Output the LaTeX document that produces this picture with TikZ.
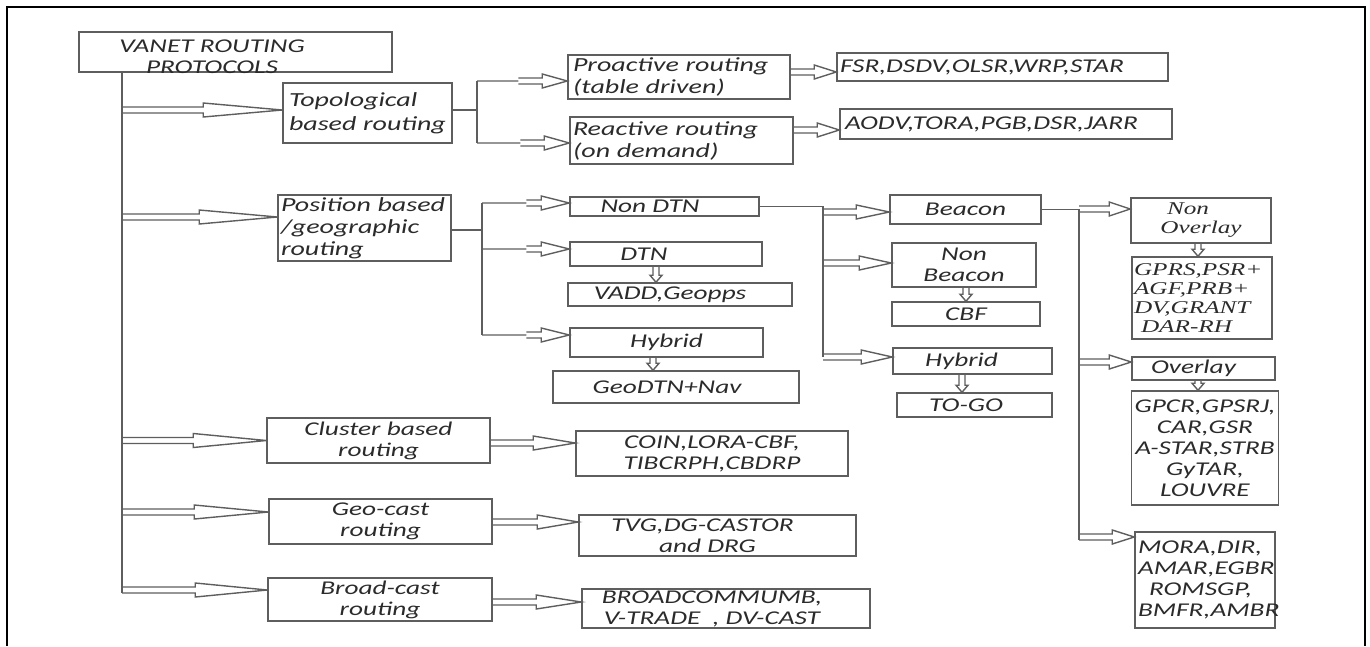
\documentclass[tikz,border=0pt]{standalone}
\usepackage{fontspec}
\setmainfont{Carlito}[FakeStretch=1.4]
\newfontfamily\timesit{Liberation Serif}[FakeStretch=1.4]
\usetikzlibrary{calc}
\definecolor{linegray}{HTML}{5E5E5E}
\definecolor{textgray}{HTML}{2B2B2B}
\tikzstyle{box}=[draw=linegray,line width=1.5pt,inner ysep=0pt,inner xsep=3pt,align=center,text=textgray,font=\itshape\fontsize{19.5}{21}\selectfont]
\tikzstyle{lbox}=[box,align=left]
\tikzstyle{bigfont}=[font=\itshape\fontsize{20}{22}\selectfont]
\tikzstyle{serifbox}=[box,font=\timesit\itshape\fontsize{18}{19}\selectfont]
\tikzstyle{plain}=[box,draw=none]
\tikzstyle{wire}=[draw=linegray,line width=1.4pt]
\newcommand{\fatarrow}[4]{%
  \draw[wire] let \p1=(#1), \p2=(#2), \n1={max(\x1,\x2-#3)} in
    (\x1,\y2) -- (\n1,\y2)
    (\n1,\y2+3pt) -- (\x2-#4,\y2+3pt) -- (\x2-#4,\y2+7pt) -- (\x2,\y2)
    -- (\x2-#4,\y2-7pt) -- (\x2-#4,\y2-3pt) -- (\n1,\y2-3pt);}
\newcommand{\droparrow}[2]{%
  \draw[wire] let \p1=(#1), \p2=(#2) in
    (\x1-3pt,\y1) -- (\x1-3pt,\y2+7pt) -- (\x1-6pt,\y2+7pt) -- (\x1,\y2)
    -- (\x1+6pt,\y2+7pt) -- (\x1+3pt,\y2+7pt) -- (\x1+3pt,\y1);}

\begin{document}
\begin{tikzpicture}[x=1pt,y=-1pt]
    \useasboundingbox (0,0) rectangle (1370,646);
    \draw[line width=2pt] (7,646) -- (7,7) -- (1365,7) -- (1365,646);

    \node[box,minimum width=313pt,minimum height=40pt] (root) at (235.5,52) {};
    \node[plain] (roottxt) at (212,57) {VANET ROUTING\\PROTOCOLS};

    \node[lbox,bigfont,text width=157pt,inner xsep=6pt,minimum height=60pt,font=\itshape\fontsize{20}{24}\selectfont] (topo) at (367.5,113) {Topological\\based routing};
    \node[lbox,bigfont,text width=167pt,minimum height=66pt] (pos) at (364.5,228) {Position based\\/geographic\\routing};
    \node[box,minimum width=223pt,minimum height=45pt] (clus) at (378.5,440.5) {Cluster based\\routing};
    \node[box,minimum width=223pt,minimum height=45pt] (geo) at (380.5,521.5) {Geo-cast\\routing};
    \node[box,minimum width=224pt,minimum height=43pt] (broad) at (380,599.5) {Broad-cast\\routing};

    \node[lbox,bigfont,text width=212pt,inner xsep=5pt,minimum height=44pt] (pro) at (679,77) {Proactive routing\\(table driven)};
    \node[lbox,bigfont,text width=217pt,minimum height=47pt] (rea) at (681.5,140.5) {Reactive routing\\(on demand)};
    \node[lbox,text width=325pt,minimum height=28pt] (fsr) at (1002.5,67) {FSR,DSDV,OLSR,WRP,STAR};
    \node[lbox,text width=322pt,inner xsep=5pt,minimum height=30pt] (aodv) at (1006,124) {AODV,TORA,PGB,DSR,JARR};

    \node[box,minimum width=189pt,minimum height=19pt] (ndtn) at (664.5,206.5) {Non DTN\hspace*{29pt}};
    \node[box,minimum width=192pt,minimum height=24pt] (dtn) at (666,254) {DTN\hspace*{44pt}};
    \node[box,minimum width=224pt,minimum height=23pt] (vadd) at (680,294.5) {VADD,Geopps\hspace*{20pt}};
    \node[box,minimum width=193pt,minimum height=29pt] (hyb) at (666.5,342.5) {Hybrid};
    \node[box,minimum width=246pt,minimum height=32pt] (geodtn) at (676,387) {GeoDTN+Nav\hspace*{18pt}};

    \node[box,minimum width=151pt,minimum height=29pt] (beacon) at (965.5,209.5) {Beacon};
    \node[box,minimum width=144pt,minimum height=44pt] (nbeacon) at (964,265) {Non\\Beacon};
    \node[box,minimum width=148pt,minimum height=24pt] (cbf) at (966,314) {CBF};
    \node[box,minimum width=159pt,minimum height=26pt] (hyb2) at (972.5,361) {Hybrid\hspace*{22pt}};
    \node[box,minimum width=155pt,minimum height=24pt] (togo) at (974.5,405) {TO-GO\hspace*{17pt}};

    \node[serifbox,minimum width=140pt,minimum height=45pt] (novl) at (1201,220.5) {Non\hspace*{26pt}\\Overlay};
    \node[serifbox,align=left,text width=136pt,inner xsep=2pt,minimum height=82pt] (gprs) at (1202,298) {GPRS,PSR+\\AGF,PRB+\\DV,GRANT\\\hspace*{7pt}DAR-RH};
    \node[box,minimum width=143pt,minimum height=23pt] (ovl) at (1203.5,368.5) {Overlay\hspace*{20pt}};
    \node[box,minimum width=142pt,minimum height=114pt] (gpcr) at (1205,448) {GPCR,GPSRJ,\\CAR,GSR\\A-STAR,STRB\\GyTAR,\\LOUVRE};
    \node[lbox,text width=134pt,minimum height=96pt] (mora) at (1205,580) {MORA,DIR,\\AMAR,EGBR\\\hspace*{11pt}ROMSGP,\\BMFR,AMBR};

    \node[box,minimum width=272pt,minimum height=45pt] (coin) at (712,453.5) {COIN,LORA-CBF,\\TIBCRPH,CBDRP};
    \node[box,minimum width=277pt,minimum height=41pt] (tvg) at (717.5,535.5) {TVG,DG-CASTOR\hspace*{30pt}\\and DRG\hspace*{20pt}};
    \node[box,minimum width=288pt,minimum height=39pt] (bcomm) at (726,608.5) {BROADCOMMUMB,\hspace*{28pt}\\V-TRADE\ \ , DV-CAST\hspace*{28pt}};

    \coordinate (trunktop) at (122,72);
    \coordinate (trunkend) at (122,593);
    \draw[wire] (trunktop) -- (trunkend);
    \fatarrow{trunktop}{[yshift=3pt]topo.west}{999pt}{79pt}
    \fatarrow{trunktop}{[yshift=11pt]pos.west}{999pt}{78pt}
    \fatarrow{trunktop}{clus.west}{999pt}{73pt}
    \fatarrow{trunktop}{[yshift=9.5pt]geo.west}{999pt}{74pt}
    \fatarrow{trunktop}{[yshift=9.5pt]broad.west}{999pt}{72pt}

    \coordinate (tfork) at (477,110);
    \coordinate (proin) at ([yshift=-4pt]pro.west);
    \coordinate (reain) at ([yshift=-2.5pt]rea.west);
    \draw[wire] ([yshift=3pt]topo.east) -- (tfork);
    \draw[wire] (tfork |- proin) -- (tfork |- reain);
    \fatarrow{tfork}{proin}{49pt}{25pt}
    \fatarrow{tfork}{reain}{49pt}{25pt}
    \fatarrow{pro.east}{[yshift=-5pt]fsr.west}{999pt}{22pt}
    \fatarrow{rea.east}{[yshift=-6pt]aodv.west}{999pt}{22pt}

    \coordinate (pfork) at (482,230);
    \coordinate (ndtnin) at ([yshift=3.5pt]ndtn.west);
    \coordinate (dtnin) at ([yshift=5pt]dtn.west);
    \coordinate (hybin) at ([yshift=7.5pt]hyb.west);
    \draw[wire] ([yshift=-2pt]pos.east) -- (pfork);
    \draw[wire] (pfork |- ndtnin) -- (pfork |- hybin);
    \fatarrow{pfork}{ndtnin}{43pt}{28pt}
    \fatarrow{pfork}{dtnin}{43pt}{28pt}
    \fatarrow{pfork}{hybin}{43pt}{28pt}
    \droparrow{[xshift=-10pt]dtn.south}{vadd.north}
    \droparrow{[xshift=-13.5pt]hyb.south}{geodtn.north}

    \coordinate (nfork) at (823,206.5);
    \coordinate (hyb2in) at ([yshift=4pt]hyb2.west);
    \draw[wire] (ndtn.east) -- (nfork) -- (nfork |- hyb2in);
    \fatarrow{nfork}{[yshift=-2.5pt]beacon.west}{999pt}{33pt}
    \fatarrow{nfork}{[yshift=2pt]nbeacon.west}{999pt}{32pt}
    \fatarrow{nfork}{hyb2in}{999pt}{31pt}
    \droparrow{[xshift=2pt]nbeacon.south}{cbf.north}
    \droparrow{[xshift=-10.5pt]hyb2.south}{togo.north}

    \coordinate (bfork) at (1079,209.5);
    \coordinate (morain) at ([yshift=43pt]mora.west);
    \draw[wire] (beacon.east) -- (bfork) -- ([yshift=-3pt]bfork |- morain);
    \fatarrow{bfork}{[yshift=11.5pt]novl.west}{999pt}{21pt}
    \fatarrow{bfork}{[yshift=6.5pt]ovl.west}{999pt}{22pt}
    \fatarrow{bfork}{morain}{999pt}{22pt}
    \droparrow{[xshift=-3pt]novl.south}{gprs.north}
    \droparrow{[xshift=-5.5pt]ovl.south}{gpcr.north}

    \fatarrow{clus.east}{[yshift=10.5pt]coin.west}{999pt}{42pt}
    \fatarrow{geo.east}{[yshift=13.5pt]tvg.west}{999pt}{41pt}
    \fatarrow{broad.east}{[yshift=6.5pt]bcomm.west}{999pt}{45pt}
\end{tikzpicture}
\end{document}
